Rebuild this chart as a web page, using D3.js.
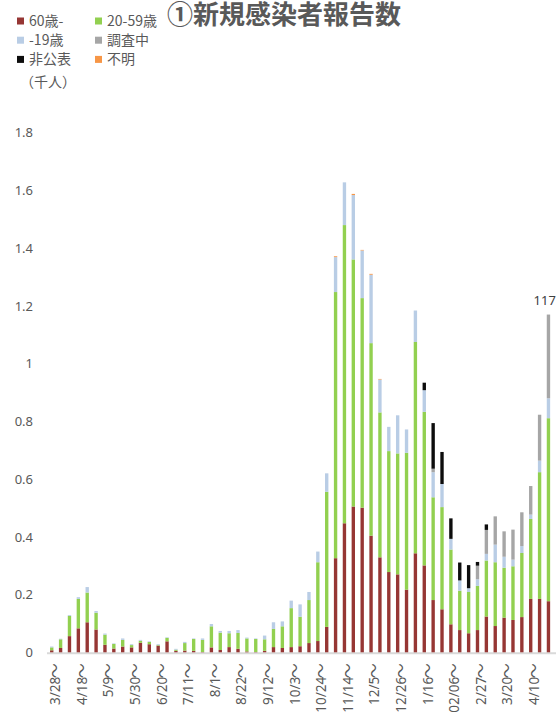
<!DOCTYPE html>
<html><head><meta charset="utf-8">
<script src="https://cdn.jsdelivr.net/npm/d3@7"></script>
<style>
html,body{margin:0;padding:0;background:#fff;overflow:hidden;}
svg{display:block;font-family:"Noto Sans CJK JP","Noto Sans",sans-serif;}
</style></head>
<body>
<svg id="chart" width="556" height="714"></svg>
<script>
// ---- data (thousand persons, weekly) ----
const weeks = ["3/28","4/4","4/11","4/18","4/25","5/2","5/9","5/16","5/23","5/30",
  "6/6","6/13","6/20","6/27","7/4","7/11","7/18","7/25","8/1","8/8",
  "8/15","8/22","8/29","9/5","9/12","9/19","9/26","10/3","10/10","10/17",
  "10/24","10/31","11/7","11/14","11/21","11/28","12/5","12/12","12/19","12/26",
  "1/2","1/9","1/16","1/23","1/30","02/06","2/13","2/20","2/27","3/6",
  "3/13","3/20","3/27","4/3","4/10","4/17","4/24"];
const age60plus = [0.007,0.015,0.056,0.083,0.104,0.079,0.026,0.013,0.020,0.017,
  0.033,0.028,0.023,0.038,0.005,0.006,0.005,0.001,0.017,0.008,
  0.018,0.012,0.003,0.001,0.005,0.018,0.015,0.018,0.021,0.032,
  0.039,0.088,0.326,0.447,0.505,0.501,0.404,0.329,0.278,0.270,
  0.217,0.343,0.301,0.181,0.149,0.097,0.077,0.066,0.077,0.124,
  0.091,0.120,0.112,0.122,0.185,0.185,0.177];
const age20to59 = [0.010,0.030,0.070,0.102,0.103,0.058,0.035,0.016,0.023,0.008,
  0.007,0.008,0.002,0.012,0.004,0.026,0.041,0.042,0.073,0.060,
  0.048,0.055,0.045,0.045,0.040,0.063,0.075,0.135,0.102,0.149,
  0.273,0.468,0.922,1.033,0.856,0.726,0.667,0.502,0.419,0.419,
  0.474,0.732,0.532,0.356,0.354,0.259,0.136,0.143,0.153,0.194,
  0.221,0.173,0.186,0.222,0.277,0.439,0.634];
const ageUnder19 = [0.003,0.002,0.003,0.006,0.019,0.006,0.004,0.002,0.005,0.003,
  0.003,0.002,0.003,0.002,0.003,0.004,0.002,0.005,0.008,0.006,
  0.008,0.010,0.003,0.002,0.013,0.023,0.017,0.026,0.043,0.028,
  0.037,0.064,0.121,0.148,0.223,0.165,0.237,0.114,0.084,0.132,
  0.081,0.109,0.075,0.087,0.080,0.037,0.036,0.013,0.023,0.023,
  0.061,0.038,0.023,0.024,0.015,0.040,0.069];
const underInvestigation = [0,0,0,0,0,0,0,0,0,0, 0,0,0,0,0,0,0,0,0,0,
  0,0,0,0,0,0,0,0,0,0, 0,0,0,0,0,0,0,0,0,0,
  0,0,0,0.012,0,0,0,0,0.047,0.083,
  0.098,0.088,0.104,0.117,0.099,0.159,0.290];
const undisclosed = [0,0,0,0,0,0,0,0,0,0, 0,0,0,0,0,0,0,0,0,0,
  0,0,0,0,0,0,0,0,0,0, 0,0,0,0,0,0,0,0,0,0,
  0,0,0.026,0.158,0.111,0.071,0.062,0.080,0.013,0.019,
  0,0,0,0,0,0,0];
const unknown = [0,0,0,0,0,0,0,0,0,0, 0,0,0,0,0,0,0,0,0,0,
  0,0,0,0,0,0,0,0,0,0, 0,0,0.003,0,0.004,0.002,0.003,0.002,0,0,
  0,0,0,0,0,0,0,0,0,0, 0,0,0,0,0,0,0];
const seriesNames = ["60歳-","20-59歳","-19歳","調査中","非公表","不明"];
const seriesColors = ["#963634","#92D050","#B9CDE5","#A6A6A6","#0D0D0D","#F79646"];
const yTicks = [0,0.2,0.4,0.6,0.8,1,1.2,1.4,1.6,1.8];
const totalLabel = "1170";
const titleText = "①新規感染者報告数";
const unitText = "（千人）";

// ---- build table ----
const keys = ["a60","a20","a19","inv","undis","unk"];
const cols = [age60plus, age20to59, ageUnder19, underInvestigation, undisclosed, unknown];
const rows = weeks.map((w,i)=>{
  const r = {week:w};
  keys.forEach((k,j)=> r[k] = cols[j][i]);
  return r;
});
const stacked = d3.stack().keys(keys)(rows);

const svg = d3.select("#chart");
const textColor = "#595959";
const latin = '"Noto Sans","Noto Sans CJK JP",sans-serif';
const cjk = '"Noto Sans CJK JP","Noto Sans",sans-serif';

const x = d3.scaleBand().domain(weeks).range([47.3, 47.3 + 57*8.87])
  .paddingInner(0.62).paddingOuter(0.31);
const y = d3.scaleLinear().domain([0,1.8]).range([652.3, 132.7]);

// baseline
svg.append("line").attr("x1",47).attr("x2",560)
  .attr("y1",y(0)+1).attr("y2",y(0)+1)
  .attr("stroke","#D9D9D9").attr("stroke-width",2);

// bars
svg.append("g").selectAll("g").data(stacked).join("g")
  .attr("fill",(d,i)=>seriesColors[i])
  .selectAll("rect").data(d=>d).join("rect")
  .attr("x",d=>x(d.data.week))
  .attr("width",x.bandwidth())
  .attr("y",d=>y(d[1]))
  .attr("height",d=>Math.max(0,y(d[0])-y(d[1])));

// y axis
const yAxis = d3.axisLeft(y).tickValues(yTicks).tickSize(0).tickPadding(0)
  .tickFormat(d=>String(+d.toFixed(1)));
const gy = svg.append("g").attr("transform","translate(33,0)").call(yAxis);
gy.select(".domain").remove();
gy.attr("font-family",latin).attr("font-size",13);
gy.selectAll("text").attr("fill",textColor);

// x axis
const xAxis = d3.axisBottom(x).tickValues(weeks.filter((w,i)=>i%3===0))
  .tickSize(0).tickFormat(d=>d);
const gx = svg.append("g").attr("transform",`translate(0,${y(0)})`).call(xAxis);
gx.select(".domain").remove();
gx.attr("font-family",latin).attr("font-size",13.5);
gx.selectAll("text")
  .attr("fill",textColor)
  .attr("text-anchor","end")
  .attr("transform","rotate(-90)")
  .attr("x",-11).attr("y",0).attr("dy","0.62em");
gx.selectAll("text").append("tspan").attr("font-family",cjk).attr("font-size",15)
  .attr("dx",-1.5).text("～");

// total label
const last = rows[rows.length-1];
const lastTop = stacked[stacked.length-1][rows.length-1][1];
svg.append("text").attr("x",x(last.week)+x.bandwidth()/2).attr("y",y(lastTop)-10)
  .attr("text-anchor","middle").attr("fill","#404040").attr("font-size","13px")
  .attr("font-family",latin)
  .text(totalLabel);

// title
svg.append("text").attr("x",167).attr("y",24).attr("fill",textColor)
  .attr("font-family",cjk)
  .attr("font-size","26px").attr("font-weight","bold").text(titleText);

// legend
const lg = svg.append("g").attr("font-family",cjk);
seriesNames.forEach((n,i)=>{
  const col = i%2, row = Math.floor(i/2);
  const lx = col===0?17:95, ly = 21 + row*19.2;
  lg.append("rect").attr("x",lx).attr("y",ly-3.5).attr("width",7).attr("height",7)
    .attr("fill",seriesColors[i]);
  lg.append("text").attr("x",lx+12).attr("y",ly).attr("dy","0.35em")
    .attr("fill",textColor).attr("font-size","14px").text(n);
});
lg.append("text").attr("x",20).attr("y",82).attr("dy","0.35em")
  .attr("fill",textColor).attr("font-size","14px").text(unitText);
</script>
</body></html>
